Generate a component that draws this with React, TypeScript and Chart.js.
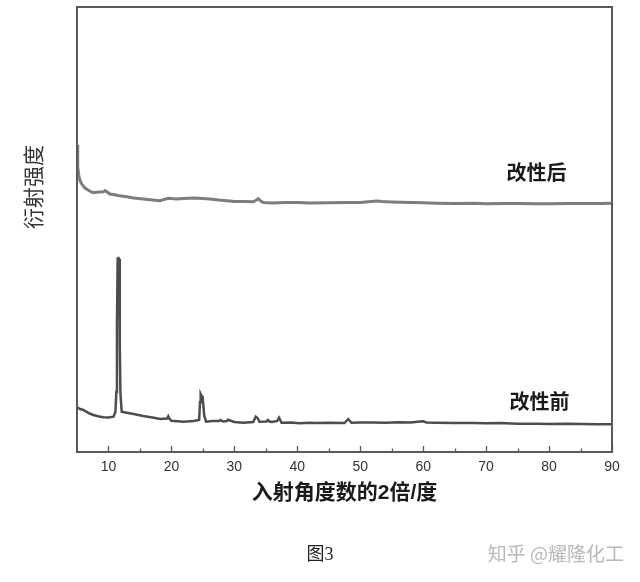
import React, { useEffect, useRef } from "react";
import { Chart, registerables } from "chart.js";

Chart.register(...registerables);

// 2θ (degrees) and intensity (arbitrary units)
const afterX = [5, 5.08, 5.15, 5.3, 5.5, 5.8, 6.27, 7, 7.6, 8.5, 9.2, 9.45, 9.8, 10.2, 11, 11.5, 12.9, 14, 15.5, 17, 18.2, 19.2, 19.6, 20.7, 22, 23.5, 25, 26.1, 27.5, 28.8, 30, 31.5, 33, 33.5, 33.8, 34.2, 34.6, 36, 38, 40, 42, 45, 48, 50, 52.6, 53.5, 55, 58, 60, 62, 65, 68, 70, 73, 75, 78, 80, 83, 85, 88, 90];
const afterY = [307, 296, 285, 276, 271, 267.5, 264, 261, 259.3, 260, 260.2, 261.5, 260, 258, 257.2, 256.5, 255.3, 254, 253, 252, 251.3, 253.2, 253.7, 253, 253.5, 254, 253.5, 253, 252, 251.3, 250.5, 250.5, 250.3, 252, 253.3, 251, 249.5, 249, 249.6, 249.5, 249, 249.2, 249.6, 249.5, 251, 250.5, 250, 249.4, 249.2, 248.8, 248.5, 248.7, 248.3, 248.6, 248.5, 248.2, 248.3, 248.6, 248.5, 248.4, 248.7];

const beforeX = [5, 5.5, 6, 7, 7.6, 8.5, 9.2, 10, 10.8, 11.1, 11.25, 11.35, 11.46, 11.6, 11.7, 11.8, 11.9, 12.1, 12.9, 14, 15.5, 17, 18.2, 19.3, 19.5, 19.7, 20, 21, 21.9, 23.5, 24.4, 24.55, 24.65, 24.8, 24.95, 25.1, 25.2, 25.5, 26.5, 27.6, 27.8, 28.2, 28.8, 29, 30, 31.4, 33, 33.4, 33.7, 34, 35.1, 35.3, 35.6, 36, 36.8, 37.1, 37.5, 39, 40.4, 42, 43, 45, 47.5, 48.1, 48.6, 50, 52, 54, 56, 58, 59.5, 60, 60.5, 62, 65, 68, 70, 72.2, 75, 78, 80, 83, 85, 88, 90];
const beforeY = [44.7, 43, 42, 38.5, 37, 35.5, 34.7, 34.5, 35.3, 40, 60, 129, 193.7, 194, 193, 105, 59, 40.3, 39.3, 38, 36, 34.5, 33, 33.5, 35.8, 33, 31.3, 30.8, 30.3, 31, 32, 50, 58, 56, 55.3, 45, 37, 30.3, 31, 31, 32, 30.5, 31, 32.2, 30, 29.3, 30, 35.3, 34, 30.3, 30.5, 32, 30.5, 30, 31, 34.3, 29.3, 29.6, 28.7, 29.3, 29, 29.2, 29, 33, 29.3, 29.6, 29.5, 29.3, 29.8, 29.5, 30.5, 30.8, 29.5, 29.3, 29, 28.9, 28.7, 28.9, 28.3, 28.2, 28, 28.2, 28, 27.8, 27.7];

const xTicks = [10, 20, 30, 40, 50, 60, 70, 80, 90];
const xMinorTicks = [15, 25, 35, 45, 55, 65, 75, 85];

const afterLabel = "改性后";
const beforeLabel = "改性前";
const xTitle = "入射角度数的2倍/度";
const yTitle = "衍射强度";
const caption = "图3";
const watermark = "知乎 @耀隆化工";

const toPoints = (xs: number[], ys: number[]) => xs.map((x, i) => ({ x, y: ys[i] }));

const overlay = {
  id: "overlay",
  afterDraw(chart: any) {
    const { ctx, chartArea } = chart;
    const xs = chart.scales.x;
    const ys = chart.scales.y;
    ctx.save();
    // frame
    ctx.strokeStyle = "#5a5a5a";
    ctx.lineWidth = 2;
    ctx.strokeRect(chartArea.left, chartArea.top, chartArea.right - chartArea.left, chartArea.bottom - chartArea.top);
    // inward ticks
    ctx.lineWidth = 1.3;
    ctx.beginPath();
    xTicks.forEach((v) => {
      const px = Math.round(xs.getPixelForValue(v)) + 0.5;
      ctx.moveTo(px, chartArea.bottom);
      ctx.lineTo(px, chartArea.bottom - 6);
    });
    xMinorTicks.forEach((v) => {
      const px = Math.round(xs.getPixelForValue(v)) + 0.5;
      ctx.moveTo(px, chartArea.bottom);
      ctx.lineTo(px, chartArea.bottom - 3.5);
    });
    ctx.stroke();

    // series labels
    ctx.fillStyle = "#1a1a1a";
    ctx.textAlign = "center";
    ctx.textBaseline = "middle";
    ctx.font = "bold 20px 'Noto Sans CJK SC'";
    ctx.fillText(afterLabel, xs.getPixelForValue(78), ys.getPixelForValue(280));
    ctx.fillText(beforeLabel, xs.getPixelForValue(78.5), ys.getPixelForValue(51));

    // x title
    ctx.font = "bold 21px 'Liberation Sans', 'Noto Sans CJK SC'";
    ctx.fillStyle = "#1a1a1a";
    ctx.fillText(xTitle, (chartArea.left + chartArea.right) / 2, 493);

    // y title
    ctx.save();
    ctx.translate(33, 187);
    ctx.rotate(-Math.PI / 2);
    ctx.font = "21px 'Noto Sans CJK SC'";
    ctx.fillStyle = "#333";
    ctx.fillText(yTitle, 0, 0);
    ctx.restore();

    // caption & watermark
    ctx.font = "18px 'Liberation Serif', 'Noto Sans CJK SC'";
    ctx.fillStyle = "#222";
    ctx.fillText(caption, 320, 555);
    ctx.font = "19px 'Noto Sans CJK SC'";
    ctx.fillStyle = "#b8b8b8";
    ctx.textAlign = "right";
    ctx.fillText(watermark, 624, 554);
    ctx.restore();
  },
};

export default function App() {
  const ref = useRef<HTMLCanvasElement | null>(null);
  useEffect(() => {
    document.body.style.margin = "0";
    if (!ref.current) return;
    const chart = new Chart(ref.current, {
      type: "line",
      data: {
        datasets: [
          {
            label: afterLabel,
            data: toPoints(afterX, afterY),
            borderColor: "#7d7d7d",
            borderWidth: 3,
            pointRadius: 0,
            tension: 0,
          },
          {
            label: beforeLabel,
            data: toPoints(beforeX, beforeY),
            borderColor: "#4d4d4d",
            borderWidth: 2.5,
            pointRadius: 0,
            tension: 0,
          },
        ],
      },
      options: {
        responsive: false,
        animation: false,
        layout: { padding: { left: 77, right: 28, top: 7, bottom: 0 } },
        plugins: { legend: { display: false }, tooltip: { enabled: false } },
        scales: {
          x: {
            type: "linear",
            min: 5,
            max: 90,
            grid: { display: false },
            border: { display: false },
            afterBuildTicks: (s: any) => {
              s.ticks = xTicks.map((v) => ({ value: v }));
            },
            afterFit: (s: any) => {
              s.height = 130;
            },
            ticks: {
              autoSkip: false,
              maxRotation: 0,
              padding: -1,
              color: "#333",
              font: { family: "'Liberation Sans'", size: 14 },
            },
          },
          y: {
            type: "linear",
            min: 0,
            max: 445,
            display: false,
          },
        },
      },
      plugins: [overlay],
    });
    return () => chart.destroy();
  }, []);
  return (
    <div style={{ width: 640, height: 582, background: "#fff" }}>
      <canvas ref={ref} width={640} height={582} style={{ display: "block" }} />
    </div>
  );
}
